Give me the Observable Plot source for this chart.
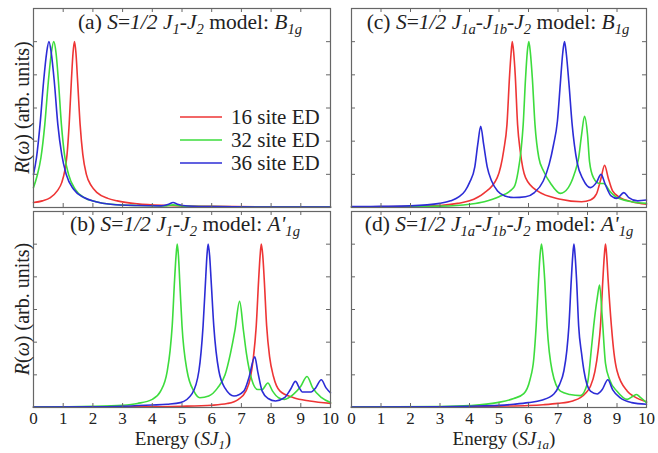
<!DOCTYPE html>
<html>
<head>
<meta charset="utf-8">
<script src="https://cdn.jsdelivr.net/npm/d3@7"></script>
<script src="https://cdn.jsdelivr.net/npm/@observablehq/plot@0.6"></script>
<style>
  html, body { margin: 0; padding: 0; background: #fff; }
  #wrap { position: relative; width: 658px; height: 453px; background: #fff; overflow: hidden; }
</style>
</head>
<body>
<div id="wrap"></div>
<script>
// ---------- data ----------
const sizes = ["16 site ED", "32 site ED", "36 site ED"];
const colors = ["#ee3535", "#3ddc3d", "#2c2cd6"];
const energyTicks = [0, 1, 2, 3, 4, 5, 6, 7, 8, 9, 10];
const innerTicksX = [1, 2, 3, 4, 5, 6, 7, 8, 9];
const innerTicksY = [0.2, 0.4, 0.6, 0.8, 1.0];

// (a) S=1/2 J1-J2 model: B1g
const a16 = [[0,0.03],[0.3,0.04],[0.57,0.06],[0.8,0.1],[0.95,0.15],[1.05,0.22],[1.13,0.32],[1.2,0.5],[1.28,0.78],[1.33,0.93],[1.38,1.0],[1.43,0.93],[1.48,0.78],[1.57,0.5],[1.66,0.32],[1.78,0.2],[1.95,0.13],[2.14,0.09],[2.5,0.055],[2.82,0.04],[3.5,0.022],[4.5,0.012],[6,0.007],[8,0.004],[10,0.003]];
const a32 = [[0,0.12],[0.12,0.19],[0.25,0.3],[0.38,0.5],[0.5,0.76],[0.6,0.93],[0.68,1.0],[0.76,0.93],[0.84,0.76],[0.94,0.5],[1.05,0.31],[1.18,0.2],[1.4,0.11],[1.7,0.06],[2.1,0.035],[2.6,0.02],[3.5,0.012],[4.4,0.009],[4.7,0.016],[5.0,0.008],[6,0.005],[8,0.003],[10,0.002]];
const a36 = [[0,0.2],[0.1,0.3],[0.22,0.5],[0.34,0.76],[0.44,0.93],[0.52,1.0],[0.6,0.93],[0.7,0.76],[0.82,0.5],[0.95,0.32],[1.1,0.2],[1.35,0.11],[1.7,0.06],[2.1,0.035],[2.6,0.02],[3.5,0.012],[4.3,0.01],[4.55,0.02],[4.7,0.03],[4.85,0.02],[5.2,0.009],[6,0.005],[8,0.003],[10,0.002]];

// (b) S=1/2 J1-J2 model: A'1g
const b16 = [[0,0.002],[3,0.004],[5,0.008],[6,0.014],[6.52,0.024],[6.9,0.05],[7.15,0.1],[7.3,0.18],[7.4,0.3],[7.5,0.5],[7.58,0.78],[7.63,0.93],[7.67,1.0],[7.72,0.93],[7.77,0.78],[7.85,0.5],[7.95,0.31],[8.08,0.19],[8.3,0.1],[8.76,0.06],[9.3,0.04],[10,0.025]];
const b32 = [[0,0.003],[2,0.007],[3,0.014],[3.5,0.025],[4.0,0.05],[4.28,0.1],[4.5,0.22],[4.6,0.35],[4.67,0.5],[4.75,0.78],[4.8,0.93],[4.84,1.0],[4.88,0.93],[4.93,0.75],[5.0,0.5],[5.17,0.225],[5.4,0.1],[5.6,0.06],[5.9,0.07],[6.2,0.12],[6.45,0.2],[6.63,0.33],[6.78,0.47],[6.94,0.65],[7.07,0.47],[7.17,0.33],[7.35,0.17],[7.55,0.11],[7.7,0.11],[7.89,0.15],[8.05,0.1],[8.25,0.06],[8.45,0.05],[8.75,0.08],[9.0,0.13],[9.21,0.19],[9.4,0.12],[9.7,0.06],[10,0.03]];
const b36 = [[0,0.002],[2,0.004],[3,0.008],[4,0.015],[4.5,0.02],[4.95,0.03],[5.34,0.085],[5.57,0.225],[5.71,0.5],[5.8,0.8],[5.84,0.93],[5.88,1.0],[5.93,0.93],[5.98,0.78],[6.07,0.5],[6.24,0.225],[6.46,0.115],[6.75,0.07],[7.08,0.1],[7.25,0.18],[7.45,0.31],[7.55,0.22],[7.7,0.1],[7.9,0.055],[8.15,0.04],[8.45,0.06],[8.65,0.11],[8.82,0.16],[8.95,0.12],[9.05,0.095],[9.35,0.095],[9.5,0.12],[9.69,0.17],[9.85,0.12],[10,0.09]];

// (c) S=1/2 J1a-J1b-J2 model: B1g
const c16 = [[0,0.003],[2,0.006],[3,0.012],[3.6,0.025],[4,0.04],[4.48,0.085],[4.94,0.18],[5.16,0.345],[5.27,0.5],[5.36,0.8],[5.41,0.93],[5.45,1.0],[5.5,0.93],[5.55,0.8],[5.63,0.5],[5.72,0.34],[5.9,0.18],[6.3,0.1],[7.08,0.05],[7.8,0.035],[8.1,0.045],[8.3,0.08],[8.45,0.17],[8.58,0.255],[8.7,0.18],[8.85,0.1],[9.1,0.06],[9.5,0.035],[10,0.02]];
const c32 = [[0,0.002],[3,0.008],[4,0.02],[4.5,0.035],[5,0.065],[5.5,0.12],[5.65,0.22],[5.75,0.35],[5.82,0.5],[5.9,0.78],[5.96,0.94],[6.01,1.0],[6.06,0.94],[6.13,0.78],[6.22,0.5],[6.35,0.3],[6.51,0.22],[6.75,0.145],[7.08,0.085],[7.35,0.12],[7.55,0.2],[7.7,0.3],[7.8,0.44],[7.9,0.55],[8.0,0.44],[8.07,0.275],[8.2,0.18],[8.4,0.145],[8.55,0.145],[8.75,0.1],[9.0,0.06],[9.5,0.035],[10,0.025]];
const c36 = [[0,0.005],[1,0.007],[2,0.01],[3,0.025],[3.36,0.04],[3.65,0.065],[3.85,0.1],[4.0,0.15],[4.18,0.245],[4.28,0.38],[4.38,0.49],[4.48,0.38],[4.6,0.245],[4.75,0.16],[4.95,0.1],[5.2,0.07],[5.5,0.06],[5.9,0.065],[6.2,0.09],[6.5,0.16],[6.7,0.26],[6.85,0.38],[6.98,0.52],[7.08,0.75],[7.16,0.93],[7.22,1.0],[7.28,0.93],[7.37,0.75],[7.48,0.5],[7.65,0.27],[7.85,0.17],[8.1,0.12],[8.3,0.15],[8.46,0.2],[8.6,0.14],[8.8,0.07],[9.0,0.055],[9.23,0.09],[9.4,0.06],[9.7,0.04],[10,0.045]];

// (d) S=1/2 J1a-J1b-J2 model: A'1g
const d16 = [[0,0.002],[3,0.004],[5,0.008],[6,0.012],[6.5,0.017],[7,0.025],[7.5,0.04],[7.76,0.06],[7.95,0.09],[8.1,0.13],[8.25,0.22],[8.36,0.35],[8.44,0.5],[8.52,0.78],[8.57,0.93],[8.61,1.0],[8.65,0.93],[8.7,0.78],[8.81,0.5],[8.9,0.33],[9.0,0.225],[9.35,0.1],[9.6,0.065],[10,0.035]];
const d32 = [[0,0.002],[3,0.006],[4,0.012],[4.94,0.03],[5.5,0.055],[5.84,0.085],[6.05,0.17],[6.18,0.3],[6.26,0.5],[6.34,0.78],[6.39,0.93],[6.44,1.0],[6.49,0.93],[6.55,0.78],[6.63,0.5],[6.8,0.225],[7.08,0.1],[7.4,0.08],[7.76,0.073],[8.0,0.15],[8.14,0.375],[8.21,0.5],[8.33,0.67],[8.41,0.75],[8.5,0.55],[8.61,0.27],[8.75,0.17],[9.0,0.1],[9.35,0.05],[9.55,0.07],[9.66,0.08],[9.8,0.06],[10,0.03]];
const d36 = [[0,0.002],[3,0.005],[4,0.008],[5,0.013],[5.5,0.02],[6,0.03],[6.44,0.045],[6.86,0.083],[7.05,0.14],[7.2,0.225],[7.3,0.35],[7.37,0.5],[7.45,0.78],[7.5,0.93],[7.54,1.0],[7.58,0.93],[7.63,0.78],[7.7,0.5],[7.8,0.33],[7.88,0.225],[8.1,0.1],[8.33,0.083],[8.5,0.11],[8.69,0.17],[8.85,0.11],[9.1,0.06],[9.5,0.03],[10,0.02]];

// text pieces: [string, style] (n = upright, i = italic, isub = italic subscript)
const titleA = [["(a) ","n"],["S","i"],["=","n"],["1/2 ","i"],["J","i"],["1","isub"],["-","i"],["J","i"],["2","isub"],[" model: ","n"],["B","i"],["1g","isub"]];
const titleB = [["(b) ","n"],["S","i"],["=","n"],["1/2 ","i"],["J","i"],["1","isub"],["-","i"],["J","i"],["2","isub"],[" model: ","n"],["A","i"],["'","i"],["1g","isub"]];
const titleC = [["(c) ","n"],["S","i"],["=","n"],["1/2 ","i"],["J","i"],["1a","isub"],["-","i"],["J","i"],["1b","isub"],["-","i"],["J","i"],["2","isub"],[" model: ","n"],["B","i"],["1g","isub"]];
const titleD = [["(d) ","n"],["S","i"],["=","n"],["1/2 ","i"],["J","i"],["1a","isub"],["-","i"],["J","i"],["1b","isub"],["-","i"],["J","i"],["2","isub"],[" model: ","n"],["A","i"],["'","i"],["1g","isub"]];
const xLabelLeft = [["Energy (","n"],["SJ","i"],["1","isub"],[")","n"]];
const xLabelRight = [["Energy (","n"],["SJ","i"],["1a","isub"],[")","n"]];
const yLabel = [["R","i"],["(","n"],["ω","i"],[")","n"],[" (arb. units)","n"]];

// ---------- drawing ----------
const FONT = "Liberation Serif";
const INK = "#222";
const FRAME = "#666";

function rows(curves) {
  return curves.flatMap((pts, i) => pts.map(([e, r]) => ({e, r, size: sizes[i]})));
}

function rich(sel, x, y, parts, size, anchor = "middle", transform = null) {
  const t = sel.append("text")
    .attr("x", x).attr("y", y)
    .attr("text-anchor", anchor)
    .attr("font-family", FONT)
    .attr("font-size", size)
    .attr("fill", INK);
  if (transform) t.attr("transform", transform);
  let shift = 0;
  for (const [s, st] of parts) {
    const sub = st.endsWith("sub");
    const target = sub ? size * 0.22 : 0;
    const ts = t.append("tspan").text(s).attr("dy", target - shift).attr("font-family", FONT);
    shift = target;
    if (st.startsWith("i")) ts.attr("font-style", "italic");
    if (sub) ts.attr("font-size", size * 0.68);
  }
  return t;
}

function panel({curves, left, top, width, height, mt, mb, ml, mr, bottom}) {
  const innerW = width - ml - mr, innerH = height - mt - mb;
  const chart = Plot.plot({
    width, height,
    marginTop: mt, marginBottom: mb, marginLeft: ml, marginRight: mr,
    style: {fontFamily: FONT, fontSize: "17px", color: INK, background: "transparent"},
    x: bottom
      ? {domain: [0, 10], ticks: energyTicks, tickSize: 0, tickPadding: 4, label: null}
      : {domain: [0, 10], axis: null},
    y: {domain: [0, 1.2], axis: null},
    color: {domain: sizes, range: colors},
    marks: [
      Plot.line(rows(curves), {x: "e", y: "r", stroke: "size", curve: "monotone-x", strokeWidth: 1.6}),
      Plot.tickX(innerTicksX, {x: d => d, insetTop: innerH - 4, stroke: FRAME}),
      Plot.tickX(innerTicksX, {x: d => d, insetBottom: innerH - 4, stroke: FRAME}),
      Plot.tickY(innerTicksY, {y: d => d, insetRight: innerW - 4, stroke: FRAME}),
      Plot.tickY(innerTicksY, {y: d => d, insetLeft: innerW - 4, stroke: FRAME}),
      Plot.frame({stroke: FRAME, strokeWidth: 1.2})
    ]
  });
  chart.setAttribute("font-family", FONT);
  chart.style.position = "absolute";
  chart.style.left = left + "px";
  chart.style.top = top + "px";
  chart.style.overflow = "visible";
  d3.select(chart).selectAll("text").attr("font-family", FONT);
  document.getElementById("wrap").appendChild(chart);
  return d3.select(chart);
}

const pa = panel({curves: [a16, a32, a36], left: 0, top: 0, width: 336, height: 209, mt: 8, mb: 2, ml: 33, mr: 6, bottom: false});
const pb = panel({curves: [b16, b32, b36], left: 0, top: 209, width: 336, height: 244, mt: 2, mb: 46, ml: 33, mr: 6, bottom: true});
const pc = panel({curves: [c16, c32, c36], left: 336, top: 0, width: 322, height: 209, mt: 8, mb: 2, ml: 15, mr: 12, bottom: false});
const pd = panel({curves: [d16, d32, d36], left: 336, top: 209, width: 322, height: 244, mt: 2, mb: 46, ml: 15, mr: 12, bottom: true});

// titles
rich(pa, 190, 29, titleA, 21.5);
rich(pb, 185, 22, titleB, 21.5);
rich(pc, 162, 29, titleC, 21.5);
rich(pd, 163, 22, titleD, 21.5);

// x labels
rich(pb, 183, 236, xLabelLeft, 19);
rich(pd, 168, 236, xLabelRight, 19);

// y labels
rich(pa, 0, 0, yLabel, 20, "middle", "translate(29,107.5) rotate(-90)");
rich(pb, 0, 0, yLabel, 20, "middle", "translate(29,100) rotate(-90)");

// legend in panel (a)
const legendY = [117, 140, 163];
sizes.forEach((s, i) => {
  pa.append("line").attr("x1", 180).attr("x2", 222).attr("y1", legendY[i]).attr("y2", legendY[i])
    .attr("stroke", colors[i]).attr("stroke-width", 1.6);
  pa.append("text").attr("x", 231).attr("y", legendY[i] + 7).attr("text-anchor", "start")
    .attr("font-family", FONT).attr("font-size", 21).attr("fill", INK).text(s);
});
</script>
</body>
</html>
